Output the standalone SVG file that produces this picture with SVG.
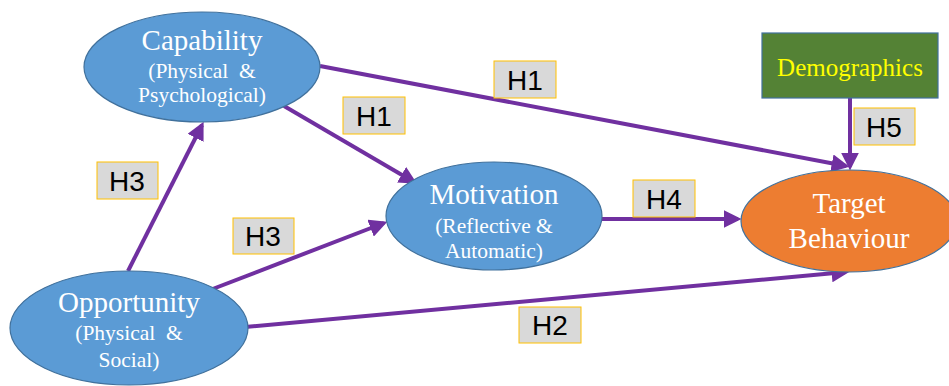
<svg xmlns="http://www.w3.org/2000/svg" width="949" height="386" viewBox="0 0 949 386">
<style>
.node{fill:#5B9BD5;stroke:#41719C;stroke-width:1.2}
.t{font-family:"Liberation Serif",serif;fill:#fff;text-anchor:middle}
.big{font-size:29px}
.sm{font-size:21.5px}
.demo{font-family:"Liberation Serif",serif;font-size:25px;fill:#FFFF00;text-anchor:middle}
.lbl rect{fill:#D9D9D9;stroke:#FFC000;stroke-width:1}
.lbl text{font-family:"Liberation Sans",Arial,sans-serif;font-size:28px;fill:#000;text-anchor:middle}
.c{stroke:#7030A0;stroke-width:4;fill:none;marker-end:url(#ah)}
</style>
<defs>
<marker id="ah" viewBox="0 0 10 10" refX="8" refY="5" markerWidth="4.5" markerHeight="4.5" orient="auto" markerUnits="strokeWidth">
<path d="M0,0 L10,5 L0,10 Z" fill="#7030A0"/>
</marker>
</defs>
<rect width="949" height="386" fill="#fff"/>
<g id="connectors">
<path class="c" d="M320,66 L846,166"/>
<path class="c" d="M284,106 L414,182"/>
<path class="c" d="M128,271 L202,125"/>
<path class="c" d="M210,290 L384,223"/>
<path class="c" d="M245,327 L846,272"/>
<path class="c" d="M602,219 L738,219"/>
<path class="c" d="M850,98 L850,167"/>
</g>
<g id="capability">
<ellipse class="node" cx="202" cy="67" rx="118" ry="55"/>
<text class="t big" x="202" y="50">Capability</text>
<text class="t sm" x="202" y="78" xml:space="preserve">(Physical  &amp;</text>
<text class="t sm" x="202" y="102">Psychological)</text>
</g>
<g id="motivation">
<ellipse class="node" cx="494" cy="216" rx="108" ry="54"/>
<text class="t big" x="494" y="204">Motivation</text>
<text class="t sm" x="494" y="233">(Reflective &amp;</text>
<text class="t sm" x="494" y="258">Automatic)</text>
</g>
<g id="opportunity">
<ellipse class="node" cx="129" cy="328" rx="119" ry="57"/>
<text class="t big" x="129" y="312">Opportunity</text>
<text class="t sm" x="129" y="340" xml:space="preserve">(Physical  &amp;</text>
<text class="t sm" x="129" y="367">Social)</text>
</g>
<g id="target">
<ellipse cx="849" cy="221" rx="108" ry="51" fill="#ED7D31" stroke="#41719C" stroke-width="1.2"/>
<text class="t big" x="849" y="213">Target</text>
<text class="t big" x="849" y="248">Behaviour</text>
</g>
<g id="demographics">
<rect x="762" y="33" width="176" height="65" fill="#548235" stroke="#41719C" stroke-width="1.2"/>
<text class="demo" x="850" y="76">Demographics</text>
</g>
<g id="labels">
<g class="lbl" id="lbl-h1a"><rect x="494" y="61" width="62" height="37"/><text x="525" y="90">H1</text></g>
<g class="lbl" id="lbl-h1b"><rect x="343" y="97" width="62" height="37"/><text x="374" y="126">H1</text></g>
<g class="lbl" id="lbl-h3a"><rect x="97" y="162" width="61" height="37"/><text x="127" y="191">H3</text></g>
<g class="lbl" id="lbl-h3b"><rect x="233" y="218" width="61" height="36"/><text x="263" y="246">H3</text></g>
<g class="lbl" id="lbl-h4"><rect x="633" y="180" width="62" height="37"/><text x="664" y="209">H4</text></g>
<g class="lbl" id="lbl-h2"><rect x="519" y="307" width="62" height="36"/><text x="550" y="335">H2</text></g>
<g class="lbl" id="lbl-h5"><rect x="854" y="108" width="61" height="37"/><text x="884" y="137">H5</text></g>
</g>
</svg>
